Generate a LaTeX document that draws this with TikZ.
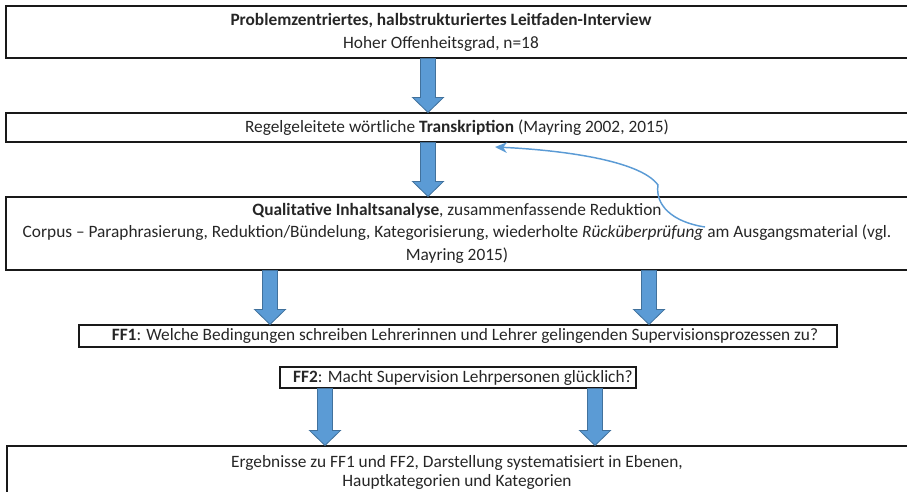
\documentclass[tikz,border=0pt]{standalone}
\usepackage{fontspec}
\setmainfont{Carlito}
\usetikzlibrary{calc,fit,arrows.meta}
\definecolor{arrowfill}{HTML}{5B9BD5}
\definecolor{arrowedge}{HTML}{41719C}
\begin{document}
\begin{tikzpicture}[x=0.75pt,y=-0.75pt,
  box/.style={draw=black!90, line width=0.8pt, inner sep=0pt},
  txt/.style={align=center, inner sep=0pt, text=black!85, font=\fontsize{13pt}{15pt}\selectfont},
  barrow/.style={draw=arrowedge, fill=arrowfill, line width=0.6pt,
    to path={let \p1=(\tikztostart), \p2=(\tikztotarget) in
      (\x1-5.6pt,\y1) -- (\x1+5.6pt,\y1) -- (\x1+5.6pt,\y2+11.25pt) -- (\x1+11.6pt,\y2+11.25pt)
      -- (\x1,\y2) -- (\x1-11.6pt,\y2+11.25pt) -- (\x1-5.6pt,\y2+11.25pt) -- cycle}}]
  \useasboundingbox (0,0) rectangle (907,492);
  \clip (0,0) rectangle (907,492);
%   \draw[gray!30] (0,0) grid[step=50] (907,492);
  \node[box, fit={(6,6) (912,58)}] (intv) {}; % box 1
  \node[box, fit={(6,113) (912,142)}] (trans) {}; % box 2
  \node[box, fit={(6,197) (912,270)}] (qia) {}; % box 3
  \node[box, fit={(79,325) (837,347)}] (ff1) {}; % FF1
  \node[box, fit={(280,367) (636,388)}] (ff2) {}; % FF2
  \node[box, fit={(7,446) (912,500)}] (erg) {}; % box 5

  \node[txt, font=\fontsize{13pt}{17.25pt}\selectfont] (intvtxt) at (441,32)
    {\textbf{Problemzentriertes, halbstrukturiertes Leitfaden-Interview}\\Hoher Offenheitsgrad, n=18};
  \node[txt] (transtxt) at (457,128) {Regelgeleitete wörtliche \textbf{Transkription} (Mayring 2002, 2015)};
  \node[txt, font=\fontsize{13pt}{16.9pt}\selectfont] (qiatxt) at (457,233)
    {\textbf{Qualitative Inhaltsanalyse}, zusammenfassende Reduktion\\
     Corpus – Paraphrasierung, Reduktion/Bündelung, Kategorisierung, wiederholte \textit{Rücküberprüfung} am Ausgangsmaterial (vgl.\\
     Mayring 2015)};
  \node[txt] (ff1txt) at (465,336) {\textbf{FF1}: Welche Bedingungen schreiben Lehrerinnen und Lehrer gelingenden Supervisionsprozessen zu?};
  \node[txt] (ff2txt) at (463,378) {\textbf{FF2}: Macht Supervision Lehrpersonen glücklich?};
  \node[txt, font=\fontsize{13pt}{14.25pt}\selectfont] (ergtxt) at (457,472)
    {Ergebnisse zu FF1 und FF2, Darstellung systematisiert in Ebenen,\\Hauptkategorien und Kategorien};

  \coordinate (colm) at (428,0);
  \coordinate (coll) at (270,0);
  \coordinate (colr) at (649,0);
  \coordinate (col2l) at (325,0);
  \coordinate (col2r) at (595,0);
  \draw[barrow] (intv.south -| colm) to (trans.north -| colm); % block arrows
  \draw[barrow] (trans.south -| colm) to (qia.north -| colm);
  \draw[barrow] (qia.south -| coll) to (ff1.north -| coll);
  \draw[barrow] (qia.south -| colr) to (ff1.north -| colr);
  \draw[barrow] (ff2.south -| col2l) to (erg.north -| col2l);
  \draw[barrow] (ff2.south -| col2r) to (erg.north -| col2r);

  \coordinate (rueck) at (705,227);
  \coordinate (back) at (495,147);
  \draw[arrowfill, line width=1.1pt, -{Stealth[length=9pt,width=8pt]}]
    (rueck) .. controls (672,222) and (655,205) .. (658,185)
    .. controls (640,160) and (560,150) .. (back); % loop back
\end{tikzpicture}
\end{document}
